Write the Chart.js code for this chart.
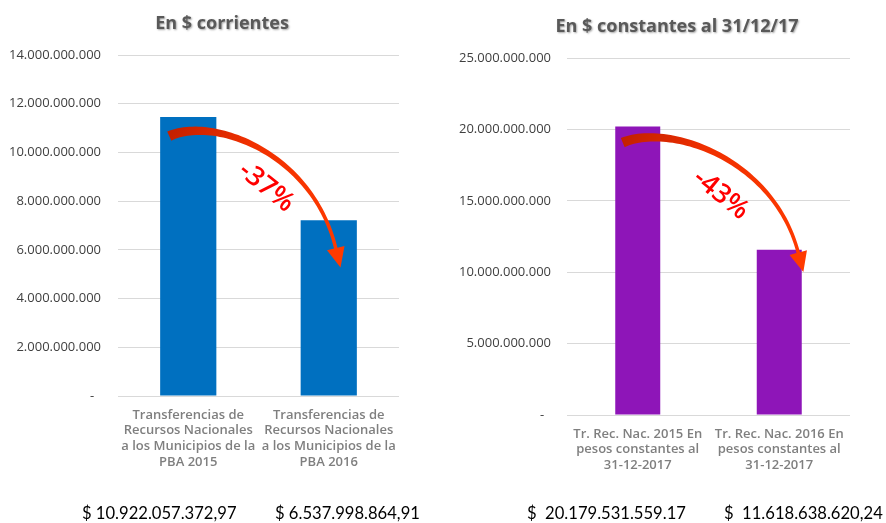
<!DOCTYPE html>
<html><head><meta charset="utf-8">
<script src="https://cdn.jsdelivr.net/npm/chart.js@4.4.0/dist/chart.umd.min.js"></script>
<style>
html,body{margin:0;padding:0;background:#fff;}
body{width:886px;height:523px;position:relative;overflow:hidden;}
canvas{position:absolute;top:0;}
#c1{left:0;} #c2{left:443px;}
.tot{position:absolute;font-family:Lato,"Liberation Sans",sans-serif;font-size:16.6px;line-height:20px;color:#000;white-space:pre;top:503px;}
</style></head><body>
<canvas id="c1" width="443" height="523"></canvas>
<canvas id="c2" width="443" height="523"></canvas>
<div class="tot" id="t0" style="left:82px"></div>
<div class="tot" id="t1" style="left:275px"></div>
<div class="tot" id="t2" style="left:527px"></div>
<div class="tot" id="t3" style="left:724px"></div>
<script>
// ---- data ----
const leftTitle = 'En $ corrientes';
const leftCategories = [
  ['Transferencias de', 'Recursos Nacionales', 'a los Municipios de la', 'PBA 2015'],
  ['Transferencias de', 'Recursos Nacionales', 'a los Municipios de la', 'PBA 2016']
];
const leftValues = [11450000000, 7220000000];
const leftAxisMax = 14000000000;
const leftAxisStep = 2000000000;
const leftChange = '-37%';
const leftTotals = ['$ 10.922.057.372,97', '$ 6.537.998.864,91'];

const rightTitle = 'En $ constantes al 31/12/17';
const rightCategories = [
  ['Tr. Rec. Nac. 2015 En', 'pesos constantes al', '31-12-2017'],
  ['Tr. Rec. Nac. 2016 En', 'pesos constantes al', '31-12-2017']
];
const rightValues = [20200000000, 11580000000];
const rightAxisMax = 25000000000;
const rightAxisStep = 5000000000;
const rightChange = '-43%';
const rightTotals = ['$  20.179.531.559.17', '$  11.618.638.620,24'];

// ---- helpers ----
function fmt(v) {
  if (v === 0) return '-  ';
  return String(Math.round(v)).replace(/\B(?=(\d{3})+(?!\d))/g, '.');
}

const headTitlePlugin = {
  id: 'headTitle',
  afterDraw(chart, args, o) {
    const ctx = chart.ctx;
    ctx.save();
    ctx.font = 'bold 18px "Open Sans", sans-serif';
    ctx.textAlign = 'center';
    ctx.textBaseline = 'middle';
    ctx.shadowColor = 'rgba(0,0,0,0.35)';
    ctx.shadowOffsetX = 1;
    ctx.shadowOffsetY = 1;
    ctx.shadowBlur = 2;
    ctx.fillStyle = '#595959';
    ctx.fillText(o.text, o.x, o.y);
    ctx.restore();
  }
};

const arrowPlugin = {
  id: 'dropArrow',
  afterDatasetsDraw(chart, args, o) {
    const meta = chart.getDatasetMeta(0);
    const b0 = meta.data[0], b1 = meta.data[1];
    const ctx = chart.ctx;
    const P0 = {x: b0.x + o.tail[0], y: b0.y + o.tail[1]};
    const P3 = {x: b1.x + o.end[0], y: b1.y + o.end[1]};
    const dx = P3.x - P0.x, dy = P3.y - P0.y;
    const P1 = {x: P0.x + 0.27 * dx, y: P0.y - 0.18 * dy};
    const P2 = {x: P0.x + 0.86 * dx, y: P0.y + 0.15 * dy};
    const bez = (t) => {
      const u = 1 - t;
      return {
        x: u*u*u*P0.x + 3*u*u*t*P1.x + 3*u*t*t*P2.x + t*t*t*P3.x,
        y: u*u*u*P0.y + 3*u*u*t*P1.y + 3*u*t*t*P2.y + t*t*t*P3.y
      };
    };
    const der = (t) => {
      const u = 1 - t;
      return {
        x: 3*u*u*(P1.x-P0.x) + 6*u*t*(P2.x-P1.x) + 3*t*t*(P3.x-P2.x),
        y: 3*u*u*(P1.y-P0.y) + 6*u*t*(P2.y-P1.y) + 3*t*t*(P3.y-P2.y)
      };
    };
    const N = 60, L = [], R = [];
    for (let i = 0; i <= N; i++) {
      const t = i / N;
      const p = bez(t), d = der(t);
      const len = Math.hypot(d.x, d.y) || 1;
      const nx = -d.y / len, ny = d.x / len;
      const w = 3.5 + 6.5 * Math.pow(1 - t, 1.6);
      L.push({x: p.x + nx * w / 2, y: p.y + ny * w / 2});
      R.push({x: p.x - nx * w / 2, y: p.y - ny * w / 2});
    }
    const dE = der(1), lE = Math.hypot(dE.x, dE.y);
    const tx = dE.x / lE, ty = dE.y / lE, nx = -ty, ny = tx;
    const hw = 9, hl = 20;
    const grad = ctx.createLinearGradient(P0.x, P0.y, P3.x, P3.y);
    grad.addColorStop(0, '#C42000');
    grad.addColorStop(0.35, '#F03000');
    grad.addColorStop(1, '#FF3A00');
    ctx.save();
    ctx.beginPath();
    ctx.moveTo(L[0].x, L[0].y);
    for (let i = 1; i <= N; i++) ctx.lineTo(L[i].x, L[i].y);
    ctx.lineTo(P3.x + nx * hw, P3.y + ny * hw);
    ctx.lineTo(P3.x + tx * hl, P3.y + ty * hl);
    ctx.lineTo(P3.x - nx * hw, P3.y - ny * hw);
    for (let i = N; i >= 0; i--) ctx.lineTo(R[i].x, R[i].y);
    ctx.closePath();
    ctx.fillStyle = grad;
    ctx.fill();
    // label
    ctx.translate(P0.x + o.label[0], P0.y + o.label[1]);
    ctx.rotate(o.angle * Math.PI / 180);
    ctx.fillStyle = '#FF0000';
    ctx.font = '600 27px "Open Sans", sans-serif';
    ctx.textAlign = 'center';
    ctx.textBaseline = 'middle';
    ctx.fillText(o.text, 0, 0);
    ctx.restore();
  }
};

function makeChart(id, cfg) {
  return new Chart(document.getElementById(id), {
    type: 'bar',
    data: {
      labels: cfg.categories,
      datasets: [{
        data: cfg.values,
        backgroundColor: cfg.color,
        borderWidth: 0,
        barPercentage: cfg.barPct,
        categoryPercentage: 1
      }]
    },
    options: {
      responsive: false,
      animation: false,
      devicePixelRatio: 1,
      layout: {padding: {left: cfg.padL, right: cfg.padR, top: cfg.padT, bottom: 0}},
      plugins: {
        legend: {display: false},
        tooltip: {enabled: false},
        title: {display: false},
        headTitle: cfg.head,
        dropArrow: cfg.arrow
      },
      scales: {
        x: {
          grid: {display: false, drawTicks: false},
          border: {display: false},
          ticks: {
            color: '#7F7F7F',
            font: {family: '"Open Sans", sans-serif', size: 13, weight: '600', lineHeight: 1.22},
            padding: 11,
            maxRotation: 0,
            minRotation: 0,
            autoSkip: false
          },
          afterFit(s) { s.height = cfg.xH; }
        },
        y: {
          min: 0,
          max: cfg.max,
          grid: {color: '#D9D9D9', lineWidth: 1, drawTicks: false},
          border: {display: false},
          ticks: {
            stepSize: cfg.step,
            color: '#404040',
            font: {family: '"Open Sans", sans-serif', size: 13},
            padding: cfg.tickPad,
            callback: (v) => fmt(v)
          },
          afterFit(s) { s.width = cfg.yW; }
        }
      }
    },
    plugins: [arrowPlugin, headTitlePlugin]
  });
}

makeChart('c1', {
  categories: leftCategories, values: leftValues, color: '#0070C0', barPct: 0.4,
  head: {text: leftTitle, x: 222, y: 24},
  padL: 4, padR: 44, padT: 55, yW: 114, tickPad: 17, xH: 127,
  max: leftAxisMax, step: leftAxisStep,
  arrow: {tail: [-19, 19], end: [7, 28], label: [97, 51], angle: 39, text: leftChange}
});
makeChart('c2', {
  categories: rightCategories, values: rightValues, color: '#8E15B8', barPct: 0.318,
  head: {text: rightTitle, x: 234, y: 27},
  padL: 4, padR: 36, padT: 58, yW: 120, tickPad: 16, xH: 108,
  max: rightAxisMax, step: rightAxisStep,
  arrow: {tail: [-15, 16], end: [19, 3], label: [98, 52], angle: 39, text: rightChange}
});

['t0','t1'].forEach((id, i) => document.getElementById(id).textContent = leftTotals[i]);
['t2','t3'].forEach((id, i) => document.getElementById(id).textContent = rightTotals[i]);
</script>
</body></html>
